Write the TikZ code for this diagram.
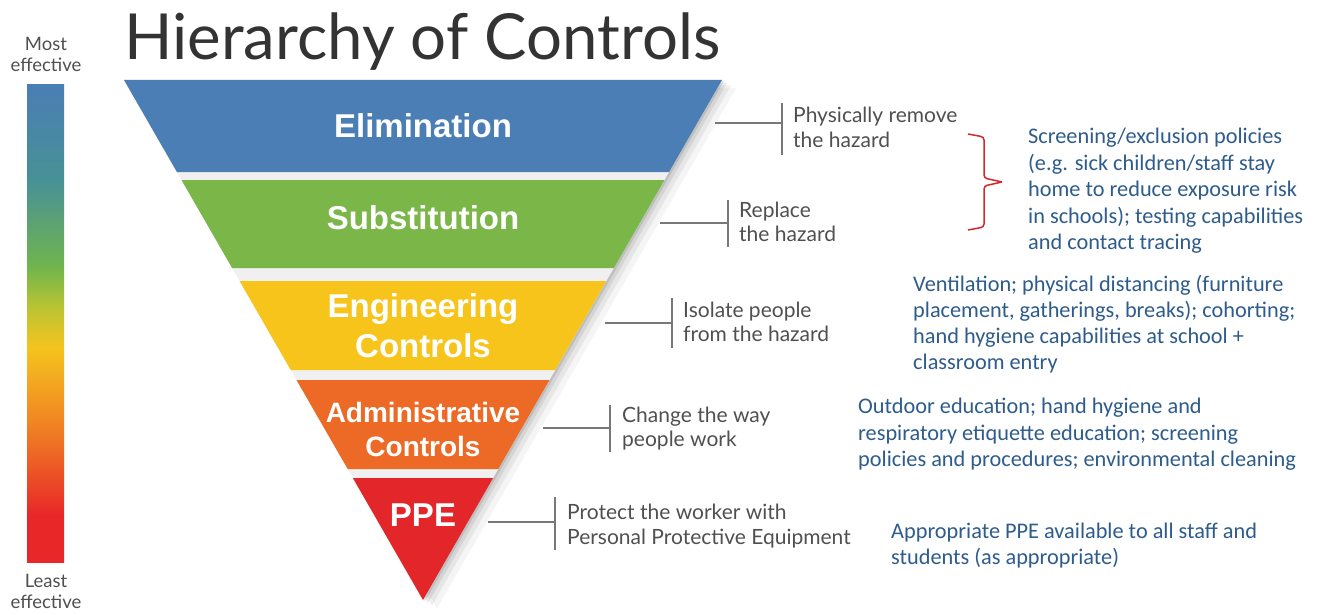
\documentclass[tikz,border=0pt]{standalone}
\usepackage{fontspec}
\setmainfont{Liberation Sans}
\newfontfamily\greyfont{Lato}
\newfontfamily\bluefont{Carlito}
\definecolor{elimc}{RGB}{74,126,180}
\definecolor{substc}{RGB}{122,182,72}
\definecolor{enginc}{RGB}{246,196,26}
\definecolor{adminc}{RGB}{236,106,37}
\definecolor{ppec}{RGB}{226,38,42}
\definecolor{bluetxt}{RGB}{46,92,140}
\definecolor{greytxt}{RGB}{80,80,80}
\definecolor{titlec}{RGB}{51,51,51}
\definecolor{bracec}{RGB}{214,40,44}
\definecolor{connc}{RGB}{120,120,120}
\definecolor{barblue}{RGB}{74,126,180}
\definecolor{barteal}{RGB}{72,145,150}
\definecolor{bargreen}{RGB}{112,180,78}
\definecolor{barlime}{RGB}{180,196,52}
\definecolor{baryellow}{RGB}{245,196,30}
\definecolor{barorange}{RGB}{240,128,36}
\definecolor{barred}{RGB}{232,40,40}
\pgfdeclareverticalshading{effbar}{100bp}{color(0bp)=(barred); color(25bp)=(barred); color(30bp)=(barred); color(39bp)=(barorange); color(47.5bp)=(baryellow); color(52bp)=(barlime); color(56bp)=(bargreen); color(65bp)=(barteal); color(75bp)=(barblue); color(100bp)=(barblue)}
\begin{document}
\begin{tikzpicture}[x=1pt,y=-1pt,
  layerlab/.style={text=white,font=\bfseries\fontsize{33}{38}\selectfont,inner sep=0,anchor=base},
  adminlab/.style={layerlab,font=\bfseries\fontsize{28}{32}\selectfont},
  conn/.style={draw=connc,line width=1.2pt},
  greyline/.style={text=greytxt,font=\greyfont\fontsize{21}{24}\selectfont,inner sep=0,anchor=base west},
  blueline/.style={text=bluetxt,font=\bluefont\fontsize{22.3}{26}\selectfont,inner sep=0,anchor=base west},
  efflab/.style={text=greytxt,font=\greyfont\fontsize{18.5}{20}\selectfont,inner sep=0,anchor=base},
  bracepath/.style={draw=bracec,line width=1.5pt,rounded corners=3pt}
]
\useasboundingbox (0,0) rectangle (1317,615);
\fill[white] (0,0) rectangle (1317,615);

% effectiveness bar
\shade[shading=effbar] (27,85) rectangle (64,562);
\node[efflab] (most1) at (46,51) {Most};
\node[efflab] (most2) at (46,72) {effective};
\node[efflab] (least1) at (46,587) {Least};
\node[efflab] (least2) at (46,608) {effective};

% title
\node[anchor=base west,inner sep=0,text=titlec,font=\greyfont\fontsize{63.5}{70}\selectfont] (title) at (124,60) {Hierarchy of Controls};

% pyramid shadow
\foreach \d/\o in {2/0.10,5/0.08,9/0.06,14/0.04}{
  \begin{scope}[shift={(\d,\d*0.6)}]
    \fill[black,opacity=\o] (124,80) -- (722,80) -- (423,600) -- cycle;
  \end{scope}
}
\fill[gray!12] (124,80) -- (722,80) -- (423,600) -- cycle;

% layers
\fill[elimc] (124,80) -- (722,80) -- (669.1,172) -- (176.9,172) -- cycle;
\fill[substc] (181.5,180) -- (664.5,180) -- (613.9,268) -- (232.1,268) -- cycle;
\fill[enginc] (239.6,281) -- (606.4,281) -- (555.25,370) -- (290.75,370) -- cycle;
\fill[adminc] (296.5,380) -- (549.5,380) -- (498.3,469) -- (347.7,469) -- cycle;
\fill[ppec] (352.85,478) -- (493.15,478) -- (423,600) -- cycle;

\node[layerlab] (lElim) at (423,138) {Elimination};
\node[layerlab] (lSubst) at (423,229) {Substitution};
\node[layerlab] (lEng1) at (423,317) {Engineering};
\node[layerlab] (lEng2) at (423,357) {Controls};
\node[adminlab] (lAdm1) at (423,422) {Administrative};
\node[adminlab] (lAdm2) at (423,456) {Controls};
\node[layerlab] (lPPE) at (423,526) {PPE};

% connectors
\coordinate (cE0) at (715,123); \coordinate (cE1) at (782,123);
\coordinate (tE0) at (782,103); \coordinate (tE1) at (782,155);
\draw[conn] (cE0) -- (cE1); \draw[conn] (tE0) -- (tE1);
\node[greyline] (gE1) at (793,123) {Physically remove};
\node[greyline] (gE2) at (793,147) {the hazard};

\coordinate (cS0) at (660,223); \coordinate (cS1) at (728,223);
\coordinate (tS0) at (728,200); \coordinate (tS1) at (728,247);
\draw[conn] (cS0) -- (cS1); \draw[conn] (tS0) -- (tS1);
\node[greyline] (gS1) at (739,217) {Replace};
\node[greyline] (gS2) at (739,241) {the hazard};

\coordinate (cN0) at (605,323); \coordinate (cN1) at (672,323);
\coordinate (tN0) at (672,298); \coordinate (tN1) at (672,348);
\draw[conn] (cN0) -- (cN1); \draw[conn] (tN0) -- (tN1);
\node[greyline] (gN1) at (683,317) {Isolate people};
\node[greyline] (gN2) at (683,341) {from the hazard};

\coordinate (cA0) at (543,428); \coordinate (cA1) at (610,428);
\coordinate (tA0) at (610,405); \coordinate (tA1) at (610,452);
\draw[conn] (cA0) -- (cA1); \draw[conn] (tA0) -- (tA1);
\node[greyline] (gA1) at (622,422) {Change the way};
\node[greyline] (gA2) at (622,446) {people work};

\coordinate (cP0) at (488,522); \coordinate (cP1) at (555,522);
\coordinate (tP0) at (555,497); \coordinate (tP1) at (555,550);
\draw[conn] (cP0) -- (cP1); \draw[conn] (tP0) -- (tP1);
\node[greyline] (gP1) at (567,519) {Protect the worker with};
\node[greyline] (gP2) at (567,544) {Personal Protective Equipment};

% red brace
\coordinate (bTop) at (968,134); \coordinate (bMid) at (1002,182); \coordinate (bBot) at (968,230);
\draw[bracepath] (bTop) -- (984,137) -- (984,178) -- (bMid);
\draw[bracepath] (bMid) -- (984,186) -- (984,227) -- (bBot);

% blue texts
\node[blueline] (b11) at (1028,143) {Screening/exclusion policies};
\node[blueline] (b12) at (1028,170) {(e.g. sick children/staff stay};
\node[blueline] (b13) at (1028,196) {home to reduce exposure risk};
\node[blueline] (b14) at (1028,223) {in schools); testing capabilities};
\node[blueline] (b15) at (1028,249) {and contact tracing};

\node[blueline] (b21) at (913,291) {Ventilation; physical distancing (furniture};
\node[blueline] (b22) at (913,317) {placement, gatherings, breaks); cohorting;};
\node[blueline] (b23) at (913,343) {hand hygiene capabilities at school +};
\node[blueline] (b24) at (913,369) {classroom entry};

\node[blueline] (b31) at (858,413) {Outdoor education; hand hygiene and};
\node[blueline] (b32) at (858,440) {respiratory etiquette education; screening};
\node[blueline] (b33) at (858,466) {policies and procedures; environmental cleaning};

\node[blueline] (b41) at (891,538) {Appropriate PPE available to all staff and};
\node[blueline] (b42) at (891,564) {students (as appropriate)};
\end{tikzpicture}
\end{document}
